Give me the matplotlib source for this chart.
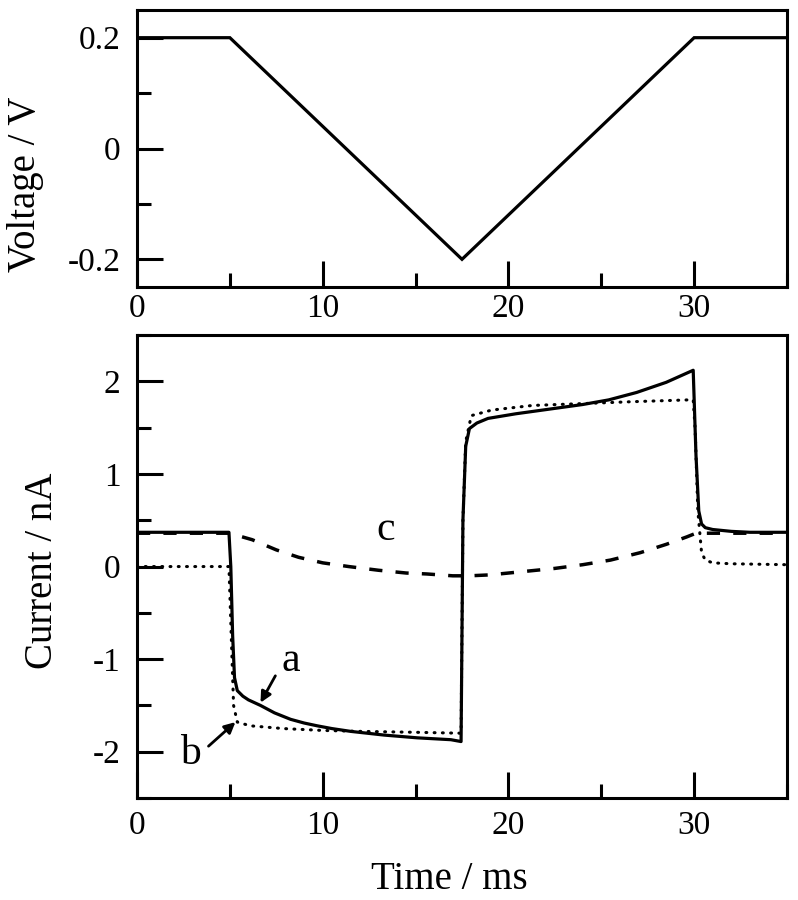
import matplotlib
matplotlib.use("Agg")
import matplotlib.pyplot as plt
from matplotlib.ticker import MultipleLocator, FixedLocator, FixedFormatter

plt.rcParams['font.family'] = ['Liberation Serif', 'DejaVu Serif']
plt.rcParams['axes.unicode_minus'] = False

# applied voltage waveform (ms, V)
v_t = [0, 5, 17.5, 30, 35]
v_e = [0.2, 0.2, -0.2, 0.2, 0.2]

# curve a (solid), ms / nA
a_t = [0, 4.95, 5.05, 5.15, 5.25, 5.4, 5.7, 6.0, 6.65, 7.4, 8.27, 9.0, 9.7, 10.5,
       11.5, 13.3, 15.1, 16.9, 17.45, 17.55, 17.7, 17.9, 18.3, 18.9, 20.4, 22.2,
       24.0, 25.4, 26.9, 28.5, 29.95, 30.1, 30.25, 30.4, 30.6, 31.0, 32.0, 33.0, 35.0]
a_i = [0.37, 0.37, 0.0, -0.75, -1.2, -1.34, -1.4, -1.44, -1.5, -1.58, -1.65, -1.69,
       -1.72, -1.75, -1.78, -1.82, -1.85, -1.87, -1.89, 0.5, 1.3, 1.49, 1.55, 1.6,
       1.65, 1.7, 1.75, 1.8, 1.88, 1.99, 2.12, 1.2, 0.6, 0.46, 0.42, 0.4, 0.38,
       0.37, 0.37]

# curve b (dotted)
b_t = [0, 4.95, 5.05, 5.2, 5.4, 6.1, 7.9, 10.0, 12.0, 15.0, 17.45, 17.55, 17.7,
       18.0, 19.1, 21.3, 24.0, 26.6, 29.7, 29.95, 30.05, 30.2, 30.4, 30.6, 31.0,
       32.0, 35.0]
b_i = [0.0, 0.0, -0.6, -1.5, -1.68, -1.72, -1.75, -1.77, -1.78, -1.79, -1.8, 0.5,
       1.35, 1.63, 1.69, 1.74, 1.76, 1.78, 1.8, 1.8, 1.5, 0.6, 0.15, 0.07, 0.04,
       0.03, 0.02]

# curve c (dashed)
c_t = [0, 5.0, 5.5, 6.2, 7.5, 8.7, 10.0, 11.4, 13.0, 14.5, 15.6, 17.0, 17.9, 19.0,
       20.5, 22.5, 24.0, 25.5, 27.1, 28.5, 29.6, 30.1, 31.0, 33.0, 35.0]
c_i = [0.36, 0.36, 0.33, 0.29, 0.18, 0.1, 0.04, 0.0, -0.04, -0.07, -0.08, -0.1,
       -0.1, -0.09, -0.06, -0.02, 0.02, 0.07, 0.15, 0.24, 0.32, 0.36, 0.36, 0.36, 0.36]

fig = plt.figure(figsize=(7.98, 9.0), dpi=100)
ax1 = fig.add_axes([0.1717, 0.6811, 0.8145, 0.3078])
ax2 = fig.add_axes([0.1717, 0.1133, 0.8145, 0.5144])

def style(ax):
    for s in ax.spines.values():
        s.set_linewidth(2.2)
    ax.tick_params(which='both', direction='in', width=2.2, labelsize=24,
                   top=False, right=False)
    ax.tick_params(which='major', length=19)
    ax.tick_params(which='minor', length=10)
    ax.tick_params(axis='y', pad=12)
    ax.set_xlim(0, 35)
    ax.xaxis.set_major_locator(MultipleLocator(10))
    ax.xaxis.set_minor_locator(MultipleLocator(5))

# top panel: voltage
style(ax1)
ax1.plot(v_t, v_e, color='k', lw=2.3, solid_joinstyle='miter')
ax1.set_ylim(-0.25, 0.25)
ax1.yaxis.set_major_locator(FixedLocator([-0.2, 0, 0.2]))
ax1.yaxis.set_major_formatter(FixedFormatter(['-0.2', '0', '0.2']))
ax1.yaxis.set_minor_locator(MultipleLocator(0.1))
ax1.tick_params(axis='x', pad=5)
ax1.set_ylabel('Voltage / V', fontsize=28)
ax1.yaxis.set_label_coords(-0.143, 0.37)

# bottom panel: current
style(ax2)
ax2.plot(c_t, c_i, color='k', lw=2.5, linestyle=(0, (3.8, 3.8)))
ax2.plot(b_t, b_i, color='k', lw=2.2, linestyle=(0, (0.3, 2.4)),
         dash_capstyle='round')
ax2.plot(a_t, a_i, color='k', lw=2.3)
ax2.set_ylim(-2.5, 2.5)
ax2.yaxis.set_major_locator(FixedLocator([-2, -1, 0, 1, 2]))
ax2.yaxis.set_major_formatter(FixedFormatter(['-2', '-1', '0', '1', '2']))
ax2.yaxis.set_minor_locator(MultipleLocator(0.5))
ax2.tick_params(axis='x', pad=9)
ax2.set_ylabel('Current / nA', fontsize=28)
ax2.yaxis.set_label_coords(-0.117, 0.49)
ax2.set_xlabel('Time / ms', fontsize=28)
ax2.xaxis.set_label_coords(0.48, -0.135)

arrow = dict(arrowstyle='-|>', color='k', lw=2, mutation_scale=16,
             shrinkA=0, shrinkB=0)
ax2.annotate('', xy=(6.65, -1.47), xytext=(7.45, -1.18), arrowprops=arrow)
ax2.text(8.3, -1.02, 'a', fontsize=30, ha='center', va='center')
ax2.annotate('', xy=(5.3, -1.68), xytext=(3.85, -1.94), arrowprops=arrow)
ax2.text(2.9, -2.02, 'b', fontsize=30, ha='center', va='center')
ax2.text(13.4, 0.4, 'c', fontsize=30, ha='center', va='center')

fig.savefig('out.png', dpi=100)
